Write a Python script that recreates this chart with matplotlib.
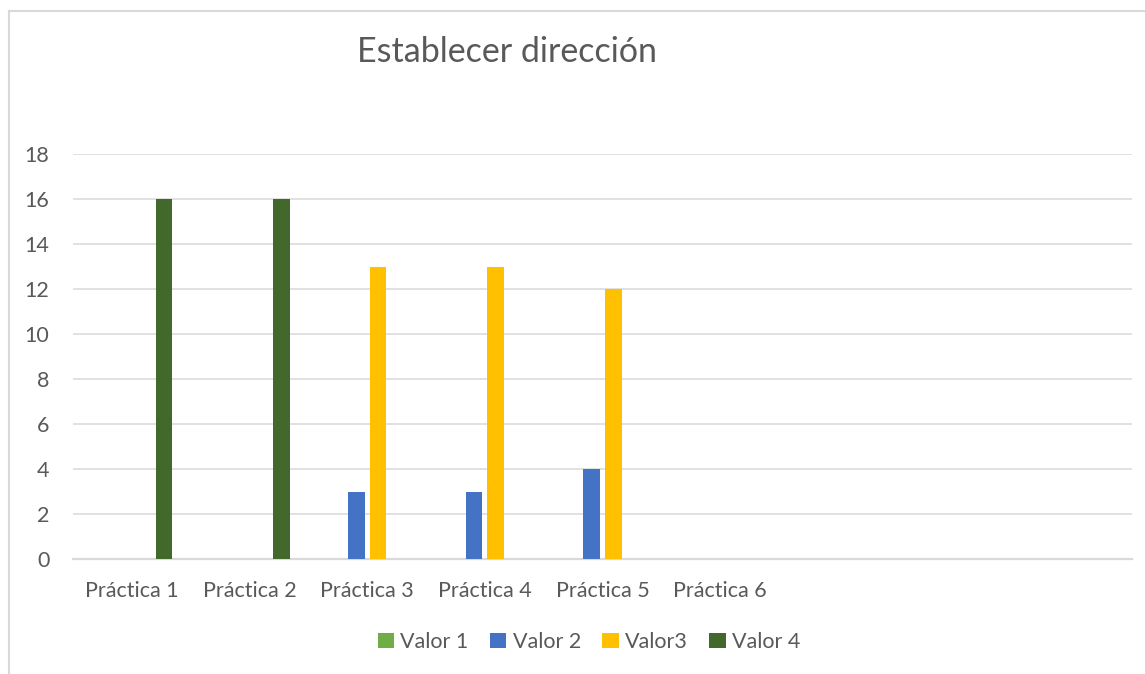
import numpy as np
import matplotlib.pyplot as plt

plt.rcParams['font.family'] = ['Lato', 'DejaVu Sans']

# datos
categorias = ['Práctica 1', 'Práctica 2', 'Práctica 3', 'Práctica 4',
              'Práctica 5', 'Práctica 6', '', '', '']
valor1 = [0, 0, 0, 0, 0, 0, 0, 0, 0]
valor2 = [0, 0, 3, 3, 4, 0, 0, 0, 0]
valor3 = [0, 0, 13, 13, 12, 0, 0, 0, 0]
valor4 = [16, 16, 0, 0, 0, 0, 0, 0, 0]
series = ['Valor 1', 'Valor 2', 'Valor3', 'Valor 4']
colores = ['#70AD47', '#4472C4', '#FFC000', '#43682B']

texto = '#595959'
gris = '#D9D9D9'

fig = plt.figure(figsize=(11.45, 6.74), dpi=100)
ax = fig.add_axes([73 / 1145, 115 / 674, 1059 / 1145, 405 / 674])

x = np.arange(len(categorias))
paso = 0.183
ancho = 0.142
for i, (vals, nombre, c) in enumerate(zip([valor1, valor2, valor3, valor4], series, colores)):
    ax.bar(x + (i - 1.5) * paso, vals, width=ancho, color=c, label=nombre,
           linewidth=0, zorder=3)

ax.set_xlim(-0.5, len(categorias) - 0.5)
ax.set_ylim(0, 18)
ax.set_yticks(range(0, 19, 2))
ax.set_xticks(x)
ax.set_xticklabels(categorias)
ax.grid(axis='y', color=gris, linewidth=1.1, zorder=0)
for s in ['top', 'right', 'left']:
    ax.spines[s].set_visible(False)
ax.spines['bottom'].set_color(gris)
ax.spines['bottom'].set_linewidth(1.6)
ax.tick_params(axis='both', length=0, labelsize=15.5, labelcolor=texto)
ax.tick_params(axis='y', pad=17)
ax.tick_params(axis='x', pad=16)

fig.text(507 / 1145, 1 - 52 / 674, 'Establecer dirección', ha='center', va='center',
         fontsize=24.5, color=texto)

fig.legend(loc='center', bbox_to_anchor=(589 / 1145, 1 - 642 / 674), ncol=4,
           frameon=False, fontsize=15.5, labelcolor=texto, handlelength=0.75,
           handleheight=0.75, handletextpad=0.3, columnspacing=1.0)

# borde del área del gráfico (recortado a la derecha y abajo)
fig.add_artist(plt.Line2D([8.5 / 1145, 8.5 / 1145], [0, 1 - 10.5 / 674], color=gris, lw=1.5))
fig.add_artist(plt.Line2D([8.5 / 1145, 1], [1 - 10.5 / 674, 1 - 10.5 / 674], color=gris, lw=1.5))

fig.savefig('out.png', dpi=100)
